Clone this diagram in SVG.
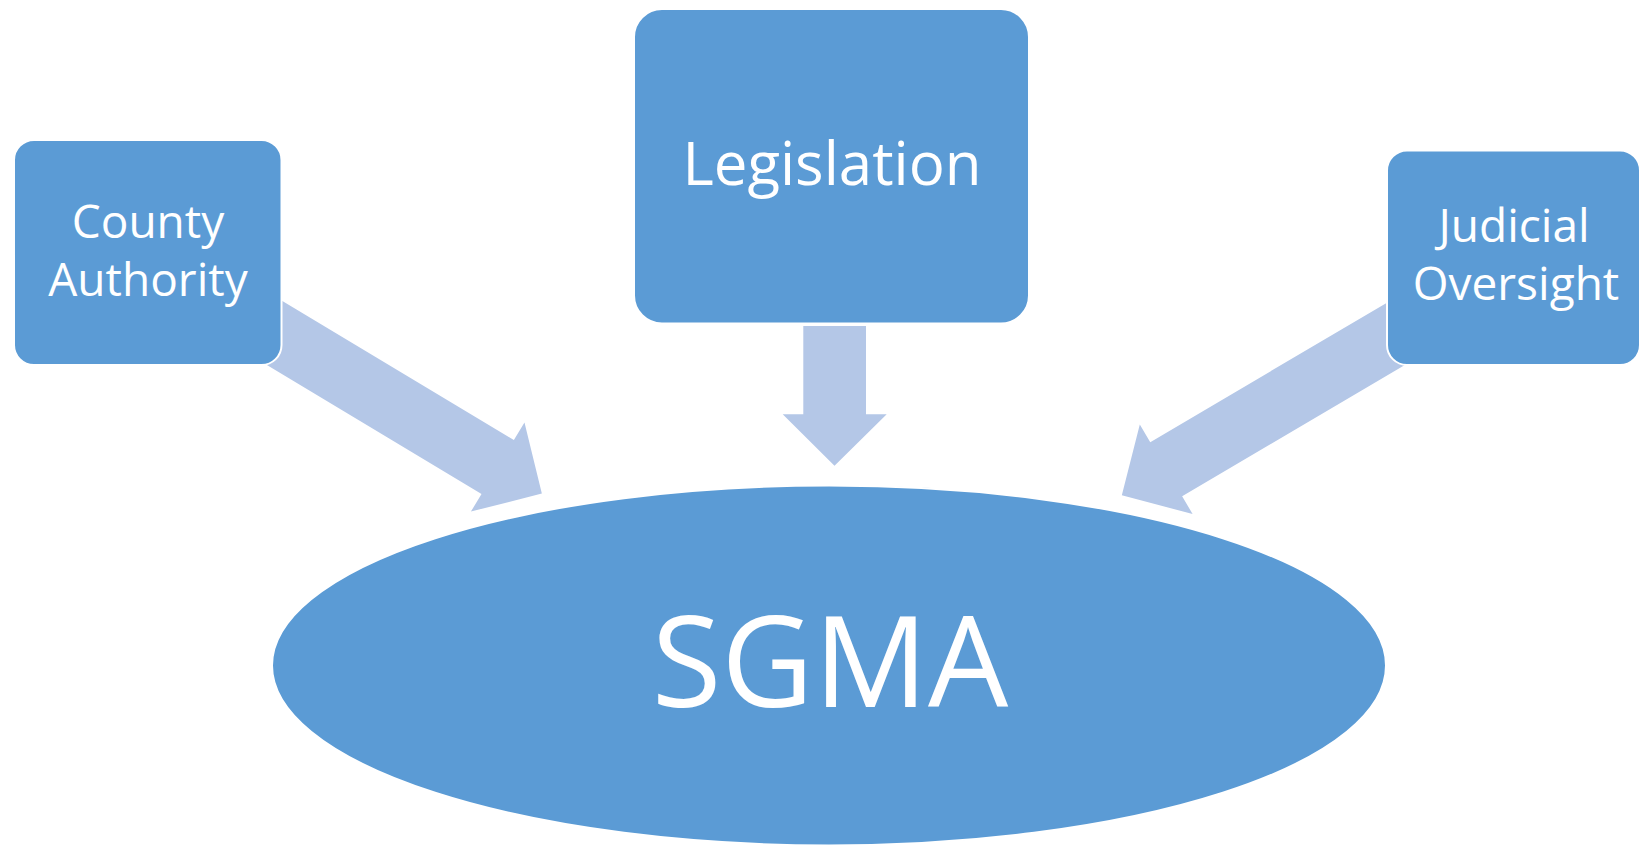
<svg xmlns="http://www.w3.org/2000/svg" width="1640" height="848" viewBox="0 0 1640 848">
  <style>
    .node { fill: #5B9BD5; stroke: #FFFFFF; stroke-width: 2; }
    .arrow { fill: #B4C7E7; stroke: none; }
    .label { fill: #FFFFFF; font-family: "Open Sans", "Liberation Sans", sans-serif; text-anchor: middle; }
  </style>
  <defs>
    <polygon id="bigArrow" points="-290,-31.4 0,-31.4 0,-52 51.5,0 0,52 0,31.4 -290,31.4"/>
  </defs>
  <rect width="1640" height="848" fill="#FFFFFF"/>
  <g id="connectors">
    <use href="#bigArrow" class="arrow" transform="translate(497.7,467) rotate(31)"/>
    <polygon class="arrow" points="803.3,326 866,326 866,414.3 886.7,414.3 834.5,465.7 782.7,414.3 803.3,414.3"/>
    <use href="#bigArrow" class="arrow" transform="translate(1166.2,469.2) rotate(149.5)"/>
  </g>
  <g id="county-authority">
    <rect class="node" x="14" y="140" width="267.5" height="225" rx="20" ry="20"/>
    <text class="label" x="148" y="237.5" font-size="46">County</text>
    <text class="label" x="148" y="296" font-size="46">Authority</text>
  </g>
  <g id="legislation">
    <rect class="node" x="634" y="9" width="395" height="314.5" rx="28" ry="28"/>
    <text class="label" x="832" y="185" font-size="60">Legislation</text>
  </g>
  <g id="judicial-oversight">
    <rect class="node" x="1387" y="150.5" width="253" height="214.5" rx="20" ry="20"/>
    <text class="label" x="1514" y="241.5" font-size="46">Judicial</text>
    <text class="label" x="1516" y="300" font-size="46">Oversight</text>
  </g>
  <g id="sgma">
    <ellipse class="node" cx="829" cy="665.5" rx="557" ry="180"/>
    <text class="label" x="830" y="707" font-size="127">SGMA</text>
  </g>
</svg>
